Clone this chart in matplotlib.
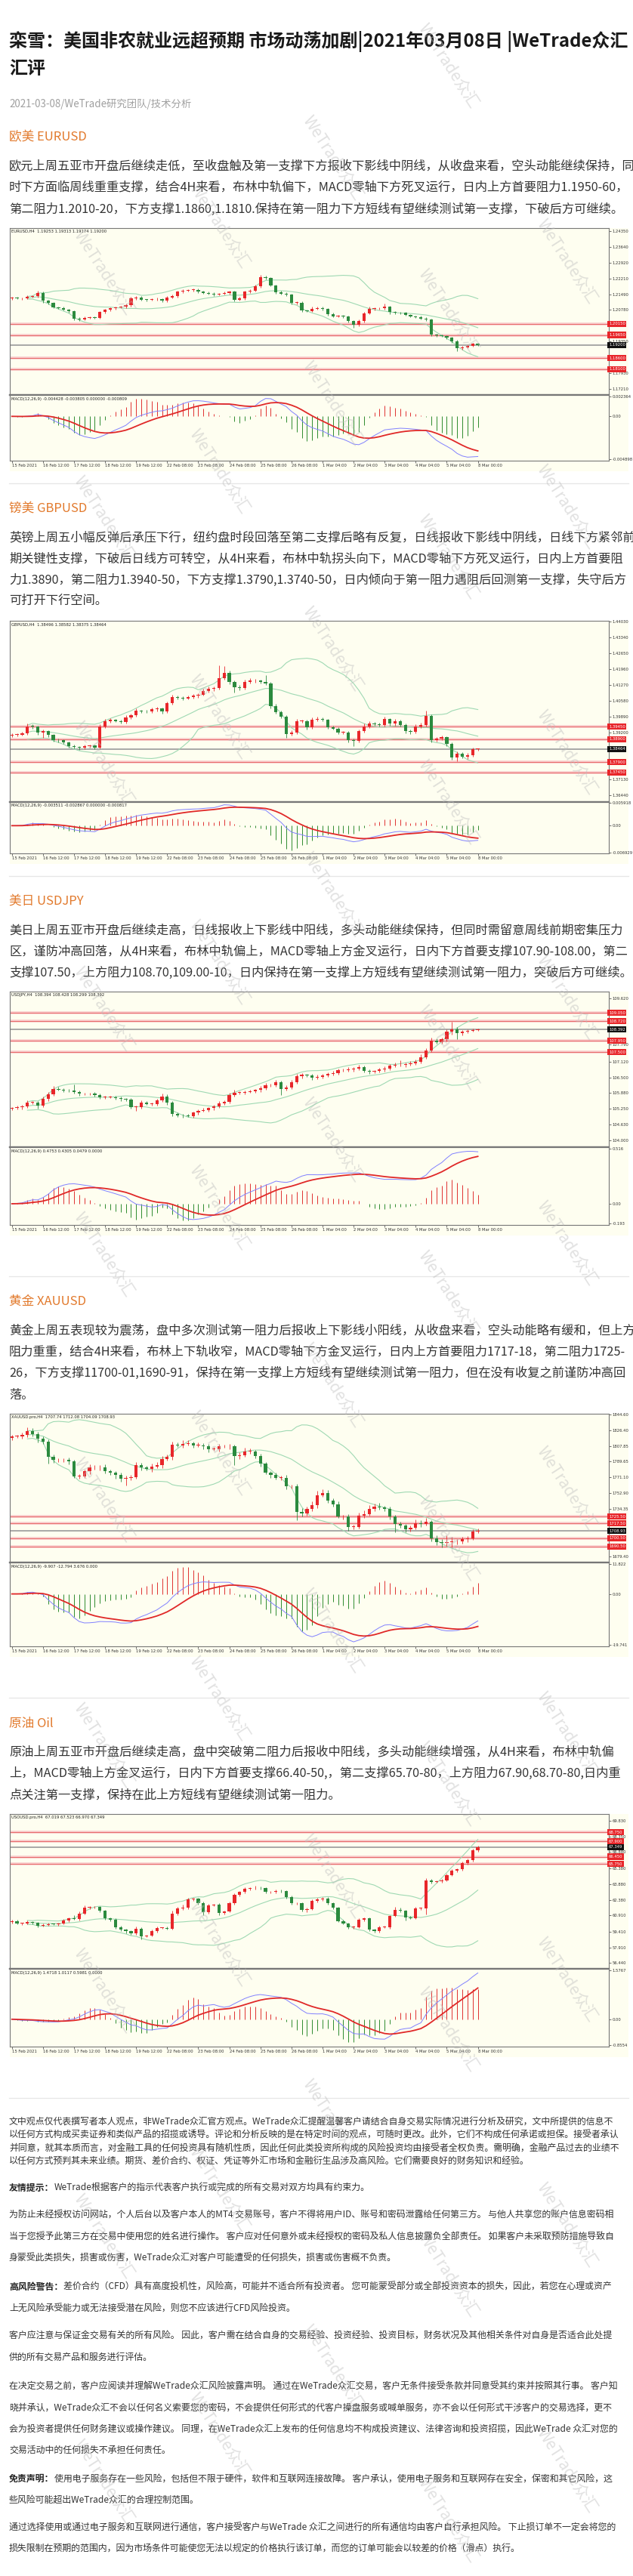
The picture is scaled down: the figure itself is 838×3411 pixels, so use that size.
import numpy as np
import pandas as pd
import matplotlib
matplotlib.use("Agg")
import matplotlib.pyplot as plt
from matplotlib.patches import Rectangle

plt.rcParams['font.family'] = ['Noto Sans CJK SC', 'DejaVu Sans']

W, H = 838, 3411
BG = '#fefef0'
UP = '#e8262a'
DN = '#2b8a3e'

# ---------------- data ----------------
bar_labels = ["15 Feb 2021", "16 Feb 12:00", "17 Feb 12:00", "18 Feb 12:00", "19 Feb 12:00",
              "22 Feb 08:00", "23 Feb 08:00", "24 Feb 08:00", "25 Feb 08:00", "26 Feb 08:00",
              "1 Mar 04:00", "2 Mar 04:00", "3 Mar 04:00", "4 Mar 04:00", "5 Mar 04:00", "8 Mar 00:00"]

eur_close = [1.2133, 1.2130, 1.2132, 1.2138, 1.2140, 1.2155, 1.2120, 1.2110, 1.2090, 1.2088,
             1.2080, 1.2072, 1.2040, 1.2036, 1.2042, 1.2044, 1.2042, 1.2068, 1.2078, 1.2085,
             1.2090, 1.2092, 1.2100, 1.2130, 1.2135, 1.2125, 1.2124, 1.2126, 1.2128, 1.2120,
             1.2135, 1.2142, 1.2160, 1.2166, 1.2168, 1.2170, 1.2160, 1.2155, 1.2152, 1.2148,
             1.2152, 1.2155, 1.2160, 1.2125, 1.2130, 1.2160, 1.2165, 1.2185, 1.2225, 1.2222,
             1.2190, 1.2158, 1.2152, 1.2148, 1.2110, 1.2112, 1.2076, 1.2074, 1.2084, 1.2088,
             1.2082, 1.2060, 1.2050, 1.2052, 1.2048, 1.2028, 1.2012, 1.2028, 1.2062, 1.2082,
             1.2085, 1.2086, 1.2092, 1.2068, 1.2066, 1.2065, 1.2055, 1.2050, 1.2046, 1.2040,
             1.2036, 1.1966, 1.1962, 1.1960, 1.1952, 1.1936, 1.1906, 1.1910, 1.1915, 1.1926,
             1.1920]
eur_up = [5, 4, 4, 6, 6, 10, 6, 4, 5, 4, 5, 4, 5, 4, 6, 4, 5, 6, 5, 6,
          4, 5, 6, 8, 6, 5, 4, 6, 5, 4, 6, 7, 5, 6, 4, 5, 5, 4, 6, 5,
          4, 7, 6, 5, 8, 6, 8, 8, 12, 8, 5, 4, 6, 5, 4, 6, 5, 4, 8, 6,
          5, 4, 6, 5, 4, 5, 4, 6, 8, 10, 6, 5, 16, 6, 5, 4, 6, 5, 4, 6,
          5, 4, 5, 6, 4, 5, 6, 5, 6, 5, 4]
eur_dn = [5, 4, 5, 4, 5, 6, 10, 6, 5, 6, 5, 6, 8, 6, 4, 5, 4, 5, 4, 5,
          6, 4, 5, 6, 5, 6, 8, 5, 4, 6, 5, 4, 6, 5, 4, 5, 6, 5, 4, 6,
          5, 4, 6, 8, 6, 5, 4, 5, 6, 5, 6, 5, 4, 6, 8, 6, 6, 5, 4, 5,
          6, 8, 6, 5, 6, 8, 14, 6, 5, 4, 5, 4, 5, 8, 6, 5, 4, 6, 5, 4,
          6, 5, 6, 4, 6, 8, 14, 6, 5, 4, 4]
eur_levels = [1.20150, 1.19650, 1.18600, 1.18100]
eur_ticks = [1.24350, 1.23640, 1.22920, 1.22210, 1.21490, 1.20780, 1.19350, 1.17930, 1.17210]

gbp_close = [1.3909, 1.3910, 1.3915, 1.3947, 1.3945, 1.3920, 1.3925, 1.3908, 1.3887, 1.3885,
             1.3875, 1.3860, 1.3855, 1.3853, 1.3860, 1.3862, 1.3853, 1.3944, 1.3970, 1.3975,
             1.3970, 1.3965, 1.3986, 1.3996, 1.4013, 1.4012, 1.4010, 1.4020, 1.4024, 1.4010,
             1.4047, 1.4074, 1.4072, 1.4068, 1.4074, 1.4080, 1.4085, 1.4101, 1.4110, 1.4114,
             1.4157, 1.4179, 1.4140, 1.4118, 1.4112, 1.4140, 1.4145, 1.4145, 1.4140, 1.4135,
             1.4035, 1.4008, 1.3988, 1.3914, 1.3920, 1.3970, 1.3970, 1.3942, 1.3975, 1.3980,
             1.3975, 1.3942, 1.3937, 1.3920, 1.3920, 1.3887, 1.3882, 1.3925, 1.3947, 1.3958,
             1.3955, 1.3953, 1.3977, 1.3958, 1.3969, 1.3953, 1.3925, 1.3922, 1.3947, 1.3953,
             1.3991, 1.3887, 1.3893, 1.3898, 1.3870, 1.3811, 1.3827, 1.3815, 1.3820, 1.3846,
             1.3846]
gbp_up = [6, 5, 6, 10, 8, 5, 6, 5, 4, 6, 5, 4, 6, 5, 6, 5, 4, 12, 10, 6,
          5, 6, 8, 6, 10, 5, 6, 8, 6, 5, 8, 10, 6, 5, 6, 8, 6, 8, 10, 6,
          55, 30, 10, 6, 8, 10, 12, 8, 6, 30, 6, 8, 5, 6, 10, 8, 6, 5, 10, 8,
          6, 5, 6, 5, 4, 6, 5, 8, 10, 12, 8, 6, 10, 6, 8, 6, 5, 6, 8, 10,
          22, 8, 6, 8, 5, 6, 8, 6, 10, 8, 5]
gbp_dn = [6, 8, 5, 6, 8, 10, 25, 8, 6, 8, 6, 8, 6, 10, 8, 6, 8, 5, 6, 8,
          6, 8, 5, 6, 8, 6, 5, 6, 8, 10, 6, 5, 8, 6, 5, 6, 8, 5, 6, 10,
          6, 8, 10, 25, 8, 6, 5, 8, 6, 8, 10, 8, 6, 18, 8, 6, 8, 10, 6, 8,
          6, 8, 6, 8, 6, 10, 22, 6, 5, 8, 6, 8, 6, 10, 8, 6, 10, 8, 6, 8,
          6, 10, 8, 6, 10, 12, 18, 8, 10, 6, 5]
gbp_levels = [1.39450, 1.38900, 1.37900, 1.37450]
gbp_ticks = [1.44030, 1.43340, 1.42650, 1.41960, 1.41270, 1.40580, 1.39890, 1.39200, 1.37130, 1.36440]

jpy_close = [105.28, 105.32, 105.35, 105.50, 105.50, 105.38, 105.65, 105.83, 106.05, 106.02,
             105.98, 105.97, 105.92, 105.85, 105.85, 105.85, 105.80, 105.72, 105.72, 105.72,
             105.68, 105.65, 105.62, 105.32, 105.32, 105.50, 105.45, 105.45, 105.58, 105.75,
             105.50, 105.05, 105.00, 104.98, 104.97, 105.10, 105.18, 105.20, 105.28, 105.35,
             105.48, 105.52, 105.80, 105.90, 105.90, 105.93, 105.95, 106.00, 106.08, 106.18,
             106.20, 106.32, 106.05, 106.10, 106.30, 106.55, 106.60, 106.58, 106.50, 106.52,
             106.58, 106.65, 106.68, 106.78, 106.80, 106.82, 106.85, 106.90, 106.75, 106.73,
             106.75, 106.82, 106.85, 106.95, 106.98, 106.98, 107.02, 107.05, 107.10, 107.30,
             107.55, 107.95, 107.90, 108.00, 108.30, 108.40, 108.25, 108.30, 108.35, 108.37,
             108.39]
jpy_up = [5, 6, 5, 8, 6, 5, 8, 10, 12, 8, 6, 5, 25, 6, 5, 4, 6, 5, 4, 5,
          6, 5, 4, 6, 5, 8, 6, 5, 8, 10, 8, 6, 5, 4, 6, 5, 6, 8, 5, 6,
          8, 6, 10, 12, 6, 5, 6, 5, 8, 10, 6, 8, 6, 8, 10, 8, 6, 5, 6, 8,
          6, 5, 8, 6, 5, 8, 6, 8, 5, 6, 5, 6, 8, 6, 10, 18, 6, 8, 10, 12,
          10, 12, 8, 6, 10, 30, 8, 6, 5, 6, 5]
jpy_dn = [6, 5, 8, 6, 5, 12, 6, 8, 6, 5, 6, 5, 6, 8, 5, 6, 5, 8, 6, 5,
          6, 8, 5, 6, 15, 6, 5, 8, 6, 5, 8, 10, 6, 8, 5, 6, 8, 5, 6, 8,
          6, 8, 6, 5, 8, 6, 5, 6, 8, 6, 5, 8, 25, 8, 6, 5, 8, 6, 10, 8,
          6, 5, 8, 6, 5, 6, 8, 5, 6, 8, 6, 5, 8, 6, 5, 6, 8, 6, 5, 6,
          8, 6, 8, 6, 8, 10, 25, 8, 6, 5, 4]
jpy_levels = [109.050, 108.720, 107.950, 107.500]
jpy_ticks = [109.620, 107.790, 107.120, 106.500, 105.880, 105.250, 104.630, 104.000]

xau_close = [1819.2, 1819.2, 1820.6, 1825.0, 1822.0, 1816.3, 1813.3, 1795.0, 1791.4, 1791.4,
             1791.4, 1789.9, 1772.4, 1772.4, 1778.2, 1782.6, 1782.6, 1783.2, 1778.2, 1776.8,
             1773.8, 1769.4, 1770.9, 1771.5, 1785.5, 1782.6, 1781.1, 1784.1, 1785.5, 1792.8,
             1794.9, 1809.0, 1808.9, 1810.4, 1811.3, 1808.9, 1808.9, 1807.5, 1804.5, 1804.5,
             1807.5, 1807.5, 1807.5, 1795.8, 1797.2, 1801.6, 1801.6, 1795.8, 1787.0, 1776.8,
             1773.8, 1770.9, 1770.9, 1760.7, 1760.7, 1731.4, 1729.4, 1734.3, 1738.7, 1750.4,
             1753.3, 1744.6, 1740.2, 1725.6, 1725.6, 1713.8, 1713.8, 1727.0, 1728.5, 1734.3,
             1737.3, 1736.4, 1734.3, 1725.6, 1716.8, 1715.3, 1710.9, 1712.4, 1718.2, 1716.8,
             1719.7, 1700.5, 1695.4, 1694.8, 1695.4, 1696.3, 1696.3, 1699.2, 1700.1, 1708.0,
             1708.9]
xau_up = [2, 2, 3, 5, 4, 2, 3, 2, 3, 2, 2, 3, 2, 3, 2, 4, 3, 2, 3, 2,
          2, 3, 2, 3, 4, 3, 2, 3, 4, 3, 3, 4, 3, 4, 3, 2, 3, 2, 3, 2,
          3, 2, 3, 2, 3, 4, 3, 2, 3, 2, 2, 3, 2, 3, 2, 3, 4, 3, 5, 5,
          4, 3, 2, 3, 2, 3, 2, 3, 4, 5, 3, 4, 2, 3, 2, 3, 2, 3, 4, 3,
          4, 2, 3, 4, 8, 6, 3, 3, 3, 3, 3]
xau_dn = [3, 2, 3, 2, 3, 4, 3, 8, 3, 2, 2, 3, 2, 3, 2, 3, 2, 3, 2, 3,
          4, 3, 8, 3, 2, 3, 2, 3, 2, 3, 2, 3, 2, 3, 2, 3, 2, 3, 4, 2,
          3, 2, 3, 10, 3, 2, 3, 2, 3, 2, 3, 2, 3, 3, 2, 10, 4, 3, 2, 3,
          2, 3, 3, 2, 3, 5, 3, 2, 3, 2, 2, 3, 2, 3, 10, 3, 4, 3, 2, 3,
          2, 4, 3, 5, 3, 6, 3, 2, 3, 2, 2]
xau_levels = [1725.50, 1717.50, 1700.50, 1690.50]
xau_ticks = [1844.60, 1826.40, 1807.85, 1789.65, 1771.10, 1752.90, 1734.35, 1679.40]

oil_close = [60.40, 60.16, 60.16, 60.28, 60.23, 59.97, 60.04, 60.11, 60.09, 60.16,
             60.45, 60.64, 60.59, 61.11, 61.63, 61.70, 61.70, 61.35, 60.64, 60.52,
             59.81, 59.57, 59.45, 59.21, 59.69, 58.98, 59.02, 59.45, 59.74, 59.74,
             59.69, 61.11, 61.58, 61.63, 62.41, 62.48, 62.06, 61.23, 61.87, 61.94,
             61.16, 61.30, 62.06, 62.89, 63.13, 63.43, 63.48, 63.53, 63.48, 63.13,
             63.13, 63.24, 63.20, 62.65, 62.06, 62.06, 61.47, 61.51, 62.30, 62.41,
             62.53, 62.06, 61.63, 60.40, 60.16, 59.81, 59.81, 60.52, 60.64, 59.57,
             59.45, 59.81, 59.81, 60.87, 61.47, 61.35, 60.76, 60.68, 61.58, 61.58,
             64.19, 64.07, 64.14, 64.24, 64.71, 65.14, 65.26, 65.85, 66.13, 67.03,
             67.35]
oil_up = [10, 12, 8, 15, 10, 8, 12, 10, 8, 10, 12, 10, 30, 15, 20, 12, 10, 8, 10, 12,
          10, 12, 8, 10, 15, 12, 10, 12, 10, 8, 10, 25, 12, 30, 15, 12, 10, 15, 12, 10,
          12, 10, 15, 12, 10, 15, 12, 20, 10, 12, 10, 12, 10, 8, 12, 10, 8, 15, 12, 20,
          15, 12, 10, 12, 10, 8, 12, 15, 10, 12, 10, 12, 15, 10, 25, 15, 10, 12, 15, 10,
          20, 15, 10, 12, 15, 12, 10, 15, 12, 20, 15]
oil_dn = [12, 10, 15, 10, 12, 15, 10, 12, 10, 12, 10, 12, 10, 12, 10, 15, 12, 10, 12, 15,
          12, 15, 20, 12, 10, 30, 12, 10, 12, 10, 12, 10, 15, 12, 10, 15, 12, 30, 12, 10,
          25, 12, 10, 12, 15, 10, 12, 10, 15, 12, 10, 12, 15, 12, 10, 12, 15, 25, 10, 12,
          10, 12, 15, 12, 10, 15, 12, 10, 12, 15, 12, 15, 10, 12, 10, 12, 30, 12, 10, 15,
          60, 12, 10, 15, 12, 10, 12, 10, 12, 15, 12]
oil_levels = [68.750, 67.900, 66.450, 65.750]
oil_ticks = [69.830, 68.350, 66.880, 65.380, 63.880, 62.380, 60.910, 59.410, 57.910, 56.440]

title_lines = ["栾雪：美国非农就业远超预期 市场动荡加剧|2021年03月08日 |WeTrade众汇", "汇评"]
date_line = "2021-03-08/WeTrade研究团队/技术分析"

sections = [
    ("欧美 EURUSD", [
        "欧元上周五亚市开盘后继续走低，至收盘触及第一支撑下方报收下影线中阴线，从收盘来看，空头动能继续保持，同",
        "时下方面临周线重重支撑，结合4H来看，布林中轨偏下，MACD零轴下方死叉运行，日内上方首要阻力1.1950-60，",
        "第二阻力1.2010-20，下方支撑1.1860,1.1810.保持在第一阻力下方短线有望继续测试第一支撑，下破后方可继续。"]),
    ("镑美 GBPUSD", [
        "英镑上周五小幅反弹后承压下行，纽约盘时段回落至第二支撑后略有反复，日线报收下影线中阴线，日线下方紧邻前",
        "期关键性支撑，下破后日线方可转空，从4H来看，布林中轨拐头向下，MACD零轴下方死叉运行，日内上方首要阻",
        "力1.3890，第二阻力1.3940-50，下方支撑1.3790,1.3740-50，日内倾向于第一阻力遇阻后回测第一支撑，失守后方",
        "可打开下行空间。"]),
    ("美日 USDJPY", [
        "美日上周五亚市开盘后继续走高，日线报收上下影线中阳线，多头动能继续保持，但同时需留意周线前期密集压力",
        "区，谨防冲高回落，从4H来看，布林中轨偏上，MACD零轴上方金叉运行，日内下方首要支撑107.90-108.00，第二",
        "支撑107.50，上方阻力108.70,109.00-10，日内保持在第一支撑上方短线有望继续测试第一阻力，突破后方可继续。"]),
    ("黄金 XAUUSD", [
        "黄金上周五表现较为震荡，盘中多次测试第一阻力后报收上下影线小阳线，从收盘来看，空头动能略有缓和，但上方",
        "阻力重重，结合4H来看，布林上下轨收窄，MACD零轴下方金叉运行，日内上方首要阻力1717-18，第二阻力1725-",
        "26，下方支撑11700-01,1690-91，保持在第一支撑上方短线有望继续测试第一阻力，但在没有收复之前谨防冲高回",
        "落。"]),
    ("原油 Oil", [
        "原油上周五亚市开盘后继续走高，盘中突破第二阻力后报收中阳线，多头动能继续增强，从4H来看，布林中轨偏",
        "上，MACD零轴上方金叉运行，日内下方首要支撑66.40-50,，第二支撑65.70-80，上方阻力67.90,68.70-80,日内重",
        "点关注第一支撑，保持在此上方短线有望继续测试第一阻力。"]),
]

disclaimer = [
    ("", "文中观点仅代表撰写者本人观点，非WeTrade众汇官方观点。WeTrade众汇提醒温馨客户请结合自身交易实际情况进行分析及研究，文中所提供的信息不"),
    ("", "以任何方式构成买卖证券和类似产品的招揽或诱导。评论和分析反映的是在特定时间的观点，可随时更改。此外，它们不构成任何承诺或担保。接受者承认"),
    ("", "并同意，就其本质而言，对金融工具的任何投资具有随机性质，因此任何此类投资所构成的风险投资均由接受者全权负责。需明确，金融产品过去的业绩不"),
    ("", "以任何方式预判其未来业绩。期货、差价合约、权证、凭证等外汇市场和金融衍生品涉及高风险。它们需要良好的财务知识和经验。"),
    ("友情提示：", "WeTrade根据客户的指示代表客户执行或完成的所有交易对双方均具有约束力。"),
    ("", "为防止未经授权访问网站，个人后台以及客户本人的MT4 交易账号，客户不得将用户ID、账号和密码泄露给任何第三方。 与他人共享您的账户信息密码相"),
    ("", "当于您授予此第三方在交易中使用您的姓名进行操作。 客户应对任何意外或未经授权的密码及私人信息披露负全部责任。 如果客户未采取预防措施导致自"),
    ("", "身蒙受此类损失，损害或伤害，WeTrade众汇对客户可能遭受的任何损失，损害或伤害概不负责。"),
    ("高风险警告：", "差价合约（CFD）具有高度投机性，风险高，可能并不适合所有投资者。 您可能蒙受部分或全部投资资本的损失，因此，若您在心理或资产"),
    ("", "上无风险承受能力或无法接受潜在风险，则您不应该进行CFD风险投资。"),
    ("", "客户应注意与保证金交易有关的所有风险。 因此，客户需在结合自身的交易经验、投资经验、投资目标，财务状况及其他相关条件对自身是否适合此处提"),
    ("", "供的所有交易产品和服务进行评估。"),
    ("", "在决定交易之前，客户应阅读并理解WeTrade众汇风险披露声明。 通过在WeTrade众汇交易，客户无条件接受条款并同意受其约束并按照其行事。 客户知"),
    ("", "晓并承认，WeTrade众汇不会以任何名义索要您的密码，不会提供任何形式的代客户操盘服务或喊单服务，亦不会以任何形式干涉客户的交易选择，更不"),
    ("", "会为投资者提供任何财务建议或操作建议。 同理，在WeTrade众汇上发布的任何信息均不构成投资建议、法律咨询和投资招揽，因此WeTrade 众汇对您的"),
    ("", "交易活动中的任何损失不承担任何责任。"),
    ("免责声明：", "使用电子服务存在一些风险，包括但不限于硬件，软件和互联网连接故障。 客户承认，使用电子服务和互联网存在安全，保密和其它风险，这"),
    ("", "些风险可能超出WeTrade众汇的合理控制范围。"),
    ("", "通过选择使用或通过电子服务和互联网进行通信，客户接受客户与WeTrade 众汇之间进行的所有通信均由客户自行承担风险。 下止损订单不一定会将您的"),
    ("", "损失限制在预期的范围内，因为市场条件可能使您无法以规定的价格执行该订单，而您的订单可能会以较差的价格（滑点）执行。"),
]
disclaimer_y = [2810, 2827, 2845, 2862, 2897, 2933, 2962, 2990, 3028, 3057,
                3093, 3122, 3160, 3188, 3216, 3244, 3282, 3310, 3347, 3375]


def fx(x):
    return x / W


def fy(y):
    return 1 - y / H


def px_rect(x0, y0, x1, y1):
    return [x0 / W, 1 - y1 / H, (x1 - x0) / W, (y1 - y0) / H]


def draw_chart(fig, top, mid, bot, closes, open0, up, dn, unit, ylim, ticks, tfmt,
               levels, last, header, macd_header, mfmt):
    c = np.array(closes, dtype=float)
    o = np.r_[open0, c[:-1]]
    hi = np.maximum(o, c) + np.array(up) * unit
    lo = np.minimum(o, c) - np.array(dn) * unit
    x = np.arange(len(c))
    s = pd.Series(c)

    # chart "screenshot" background, behind the axes
    bg = fig.add_axes(px_rect(13, top, 832, bot + 14), zorder=-5)
    bg.set_facecolor(BG)
    bg.set_xticks([])
    bg.set_yticks([])
    for sp in bg.spines.values():
        sp.set_visible(False)

    ax = fig.add_axes(px_rect(13, top, 806, mid))
    ax.set_facecolor(BG)
    ma = s.rolling(20, min_periods=4).mean()
    sd = s.rolling(20, min_periods=4).std(ddof=0)
    for band in (ma, ma + 2 * sd, ma - 2 * sd):
        ax.plot(x, band, color='#9fd9b3', lw=0.8, zorder=2)
    for lv in levels:
        ax.axhline(lv, color='#f9caca', lw=2.6, zorder=1)
        ax.axhline(lv, color='#e45a5a', lw=0.6, zorder=1)
        ax.text(1.0, lv, tfmt.format(lv), transform=ax.get_yaxis_transform(), ha='left', va='center',
                fontsize=3.8, color='white', family='DejaVu Sans', clip_on=False, zorder=5,
                bbox=dict(boxstyle='square,pad=0.3', fc='#e8262a', ec='none'))
    ax.axhline(last, color='#9a9a9a', lw=1.2, zorder=1)
    ax.text(1.0, last, tfmt.format(last), transform=ax.get_yaxis_transform(), ha='left', va='center',
            fontsize=3.8, color='white', family='DejaVu Sans', clip_on=False, zorder=5,
            bbox=dict(boxstyle='square,pad=0.3', fc='#111111', ec='none'))

    cols = np.where(c >= o, UP, DN)
    ax.vlines(x, lo, hi, colors=cols, lw=0.6, zorder=3)
    body = np.maximum(np.abs(c - o), (ylim[1] - ylim[0]) * 0.003)
    ax.bar(x, body, bottom=np.minimum(o, c), width=0.62, color=cols, zorder=4)

    ax.set_xlim(-0.4, 115.3)
    ax.set_ylim(*ylim)
    ax.set_xticks([])
    ax.yaxis.tick_right()
    ax.set_yticks(ticks)
    ax.set_yticklabels([tfmt.format(t) for t in ticks], family='DejaVu Sans')
    ax.tick_params(axis='y', labelsize=3.8, length=2, width=0.5, colors='#333333', pad=1.5)
    for sp in ax.spines.values():
        sp.set_color('#777777')
        sp.set_linewidth(0.8)
    ax.spines['bottom'].set_linewidth(1.6)
    ax.text(0.003, 0.99, header, transform=ax.transAxes, fontsize=3.8, va='top', ha='left',
            family='DejaVu Sans', color='#222222')

    ema12 = s.ewm(span=12, adjust=False).mean()
    ema26 = s.ewm(span=26, adjust=False).mean()
    dif = ema12 - ema26
    dea = dif.ewm(span=9, adjust=False).mean()
    hist = 2 * (dif - dea)

    ax2 = fig.add_axes(px_rect(13, mid, 806, bot))
    ax2.set_facecolor(BG)
    hcol = np.where(hist >= 0, '#e03030', '#2e8b2e')
    ax2.vlines(x, 0, hist, colors=hcol, lw=0.7)
    ax2.plot(x, dif, color='#8080ff', lw=0.7)
    ax2.plot(x, dea, color='#e02828', lw=1.3)
    lo_m = min(dif.min(), dea.min(), hist.min())
    hi_m = max(dif.max(), dea.max(), hist.max())
    pad = (hi_m - lo_m) * 0.06
    ax2.set_ylim(lo_m - pad, hi_m + pad)
    ax2.set_xlim(-0.4, 115.3)
    ax2.yaxis.tick_right()
    ax2.set_yticks([hi_m + pad * 0.6, 0, lo_m - pad * 0.6])
    ax2.set_yticklabels([mfmt.format(hi_m + pad), "0.00", mfmt.format(lo_m - pad)], family='DejaVu Sans')
    ax2.tick_params(axis='y', labelsize=3.8, length=2, width=0.5, colors='#333333', pad=1.5)
    ax2.set_xticks(np.arange(0, 91, 6))
    ax2.set_xticklabels(bar_labels, family='DejaVu Sans', ha='left')
    ax2.tick_params(axis='x', labelsize=3.8, length=2, width=0.5, colors='#333333', pad=1)
    for sp in ax2.spines.values():
        sp.set_color('#777777')
        sp.set_linewidth(0.8)
    ax2.spines['top'].set_linewidth(1.6)
    ax2.text(0.003, 0.97, macd_header, transform=ax2.transAxes, fontsize=3.8, va='top', ha='left',
             family='DejaVu Sans', color='#222222')


def main():
    fig = plt.figure(figsize=(W / 100, H / 100), dpi=100)
    fig.patch.set_facecolor('white')

    # header
    fig.text(fx(12), fy(55), title_lines[0], fontsize=17.3, weight='bold', color='#1a1a1a', va='center')
    fig.text(fx(12), fy(91), title_lines[1], fontsize=17.3, weight='bold', color='#1a1a1a', va='center')
    fig.text(fx(12), fy(138), date_line, fontsize=9.6, color='#a0a0a0', va='center')

    heading_y = [182, 673, 1193, 1723, 2282]
    para_y = [[220, 248, 277], [712, 740, 768, 795], [1232, 1260, 1288],
              [1762, 1790, 1818, 1847], [2320, 2348, 2377]]
    for (head, lines), hy, pys in zip(sections, heading_y, para_y):
        fig.text(fx(12), fy(hy), head, fontsize=12, color='#e27a2d', va='center')
        for line, py in zip(lines, pys):
            fig.text(fx(12), fy(py), line, fontsize=11.7, color='#333333', va='center')

    for sy in [640, 1160, 1690, 2248, 2778]:
        fig.add_artist(plt.Line2D([fx(12), fx(832)], [fy(sy), fy(sy)], color='#e6e6e6', lw=0.9,
                                  transform=fig.transFigure))

    draw_chart(fig, 302, 523, 610, eur_close, 1.2130, eur_up, eur_dn, 0.0001,
               (1.16937, 1.24486), eur_ticks, "{:.5f}", eur_levels, 1.19200,
               "EURUSD,H4  1.19253 1.19313 1.19174 1.19200",
               "MACD(12,26,9) -0.004428 -0.003805 0.000000 -0.000809", "{:.6f}")
    draw_chart(fig, 822, 1062, 1130, gbp_close, 1.3905, gbp_up, gbp_dn, 0.0001,
               (1.36154, 1.44073), gbp_ticks, "{:.5f}", gbp_levels, 1.38464,
               "GBPUSD,H4  1.38496 1.38582 1.38375 1.38464",
               "MACD(12,26,9) -0.003511 -0.002867 0.000000 -0.000817", "{:.6f}")
    draw_chart(fig, 1313, 1519, 1622, jpy_close, 105.25, jpy_up, jpy_dn, 0.01,
               (103.73, 109.90), jpy_ticks, "{:.3f}", jpy_levels, 108.392,
               "USDJPY,H4  108.394 108.428 108.299 108.392",
               "MACD(12,26,9) 0.4753 0.4305 0.0479 0.0000", "{:.3f}")
    draw_chart(fig, 1872, 2069, 2180, xau_close, 1817.5, xau_up, xau_dn, 1.0,
               (1672.0, 1845.5), xau_ticks, "{:.2f}", xau_levels, 1708.93,
               "XAUUSD.pro,H4  1707.74 1712.08 1704.09 1708.93",
               "MACD(12,26,9) -9.907 -12.794 3.676 0.000", "{:.3f}")
    draw_chart(fig, 2402, 2607, 2710, oil_close, 60.30, oil_up, oil_dn, 0.01,
               (55.89, 70.47), oil_ticks, "{:.3f}", oil_levels, 67.349,
               "USOUSD.pro,H4  67.019 67.523 66.970 67.349",
               "MACD(12,26,9) 1.4718 1.0117 0.5981 0.0000", "{:.4f}")

    # disclaimer
    for (bold, rest), dy in zip(disclaimer, disclaimer_y):
        x0 = 12
        fs = 8.6
        if bold:
            fig.text(fx(x0), fy(dy), bold, fontsize=fs, weight='bold', color='#222222', va='center')
            x0 += len(bold) * fs * 100 / 72
        fig.text(fx(x0), fy(dy), rest, fontsize=fs, color='#333333', va='center')

    # watermarks, kept inside the page
    cols = [(137, 362), (290, 300), (440, 210), (593, 88), (750, 347)]
    for cx, y0 in cols:
        yy = y0
        while yy < H - 70:
            fig.text(fx(cx), fy(yy), "WeTrade众汇", fontsize=15, color='#bdbdbd', alpha=0.45,
                     rotation=-57, rotation_mode='anchor', ha='center', va='center', zorder=100)
            yy += 325

    fig.savefig("out.png", dpi=100, facecolor='white')


if __name__ == '__main__':
    main()
